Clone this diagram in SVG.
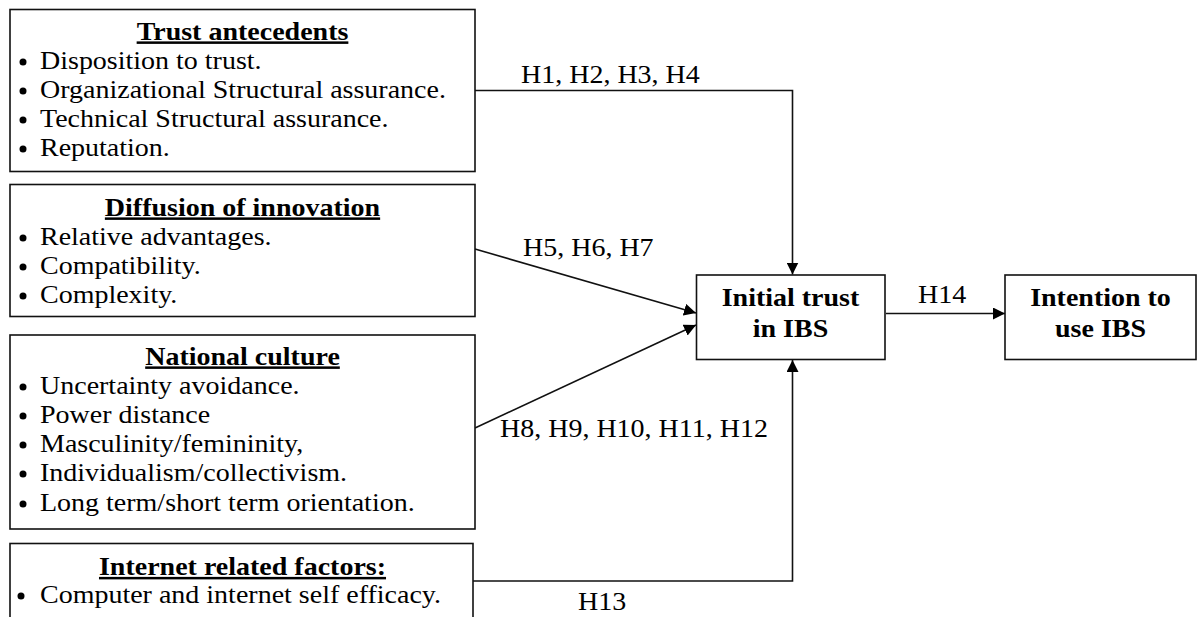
<svg xmlns="http://www.w3.org/2000/svg" width="1198" height="617" viewBox="0 0 1198 617">
<style>
text{font-family:"Liberation Serif","Times New Roman",serif;font-size:25px;fill:#000}
.b{font-weight:bold}
.t{font-weight:bold;text-anchor:middle;text-decoration:underline}
.m{text-anchor:middle}
.box{fill:#fff;stroke:#111;stroke-width:1.6}
.ln{fill:none;stroke:#111;stroke-width:1.6}
.dot{fill:#000}
</style>
<defs>
<marker id="ah" viewBox="0 0 12 12" refX="12" refY="6" markerWidth="12" markerHeight="12" orient="auto" markerUnits="userSpaceOnUse"><path d="M0,0 L12,6 L0,12 z" fill="#000"/></marker>
</defs>

<g id="connectors">
<polyline class="ln" points="475,90.5 792.5,90.5 792.5,274.5" marker-end="url(#ah)"/>
<line class="ln" x1="475" y1="249" x2="696" y2="313" marker-end="url(#ah)"/>
<line class="ln" x1="475" y1="428" x2="696" y2="325" marker-end="url(#ah)"/>
<polyline class="ln" points="473,581 792.5,581 792.5,360" marker-end="url(#ah)"/>
<line class="ln" x1="886" y1="313.5" x2="1005" y2="313.5" marker-end="url(#ah)"/>
<text transform="translate(521,83) scale(1.12,1)">H1, H2, H3, H4</text>
<text transform="translate(523,256) scale(1.12,1)">H5, H6, H7</text>
<text transform="translate(500,437) scale(1.12,1)">H8, H9, H10, H11, H12</text>
<text transform="translate(578,610) scale(1.12,1)">H13</text>
<text transform="translate(918,303) scale(1.12,1)">H14</text>
</g>

<g id="trust-antecedents">
<rect class="box" x="10" y="9.5" width="465" height="162"/>
<text class="t" transform="translate(242.5,39.5) scale(1.12,1)">Trust antecedents</text>
<circle class="dot" cx="23" cy="62" r="3.5"/>
<text transform="translate(40,68.5) scale(1.12,1)">Disposition to trust.</text>
<circle class="dot" cx="23" cy="91" r="3.5"/>
<text transform="translate(40,97.5) scale(1.12,1)">Organizational Structural assurance.</text>
<circle class="dot" cx="23" cy="120" r="3.5"/>
<text transform="translate(40,126.5) scale(1.12,1)">Technical Structural assurance.</text>
<circle class="dot" cx="23" cy="149" r="3.5"/>
<text transform="translate(40,155.5) scale(1.12,1)">Reputation.</text>
</g>

<g id="diffusion-of-innovation">
<rect class="box" x="10" y="184.5" width="465" height="132"/>
<text class="t" transform="translate(242.5,215.5) scale(1.12,1)">Diffusion of innovation</text>
<circle class="dot" cx="23" cy="238" r="3.5"/>
<text transform="translate(40,244.5) scale(1.12,1)">Relative advantages.</text>
<circle class="dot" cx="23" cy="267" r="3.5"/>
<text transform="translate(40,273.5) scale(1.12,1)">Compatibility.</text>
<circle class="dot" cx="23" cy="296" r="3.5"/>
<text transform="translate(40,302.5) scale(1.12,1)">Complexity.</text>
</g>

<g id="national-culture">
<rect class="box" x="10" y="335" width="465" height="194"/>
<text class="t" transform="translate(242.5,364.5) scale(1.12,1)">National culture</text>
<circle class="dot" cx="23" cy="387" r="3.5"/>
<text transform="translate(40,393.5) scale(1.12,1)">Uncertainty avoidance.</text>
<circle class="dot" cx="23" cy="416" r="3.5"/>
<text transform="translate(40,422.5) scale(1.12,1)">Power distance</text>
<circle class="dot" cx="23" cy="445" r="3.5"/>
<text transform="translate(40,451.5) scale(1.12,1)">Masculinity/femininity,</text>
<circle class="dot" cx="23" cy="474" r="3.5"/>
<text transform="translate(40,480.5) scale(1.12,1)">Individualism/collectivism.</text>
<circle class="dot" cx="23" cy="504" r="3.5"/>
<text transform="translate(40,510.5) scale(1.12,1)">Long term/short term orientation.</text>
</g>

<g id="internet-related-factors">
<rect class="box" x="10" y="543.5" width="463" height="90"/>
<text class="t" transform="translate(242.5,575) scale(1.12,1)">Internet related factors:</text>
<circle class="dot" cx="21" cy="596" r="3.5"/>
<text transform="translate(40,602.5) scale(1.12,1)">Computer and internet self efficacy.</text>
</g>

<g id="initial-trust">
<rect class="box" x="696.5" y="275" width="188.5" height="84.5"/>
<text class="b m" transform="translate(790.5,306) scale(1.12,1)">Initial trust</text>
<text class="b m" transform="translate(790.5,337) scale(1.12,1)">in IBS</text>
</g>

<g id="intention">
<rect class="box" x="1005" y="275" width="191" height="84.5"/>
<text class="b m" transform="translate(1100.5,305.5) scale(1.12,1)">Intention to</text>
<text class="b m" transform="translate(1100.5,336.5) scale(1.12,1)">use IBS</text>
</g>
</svg>
